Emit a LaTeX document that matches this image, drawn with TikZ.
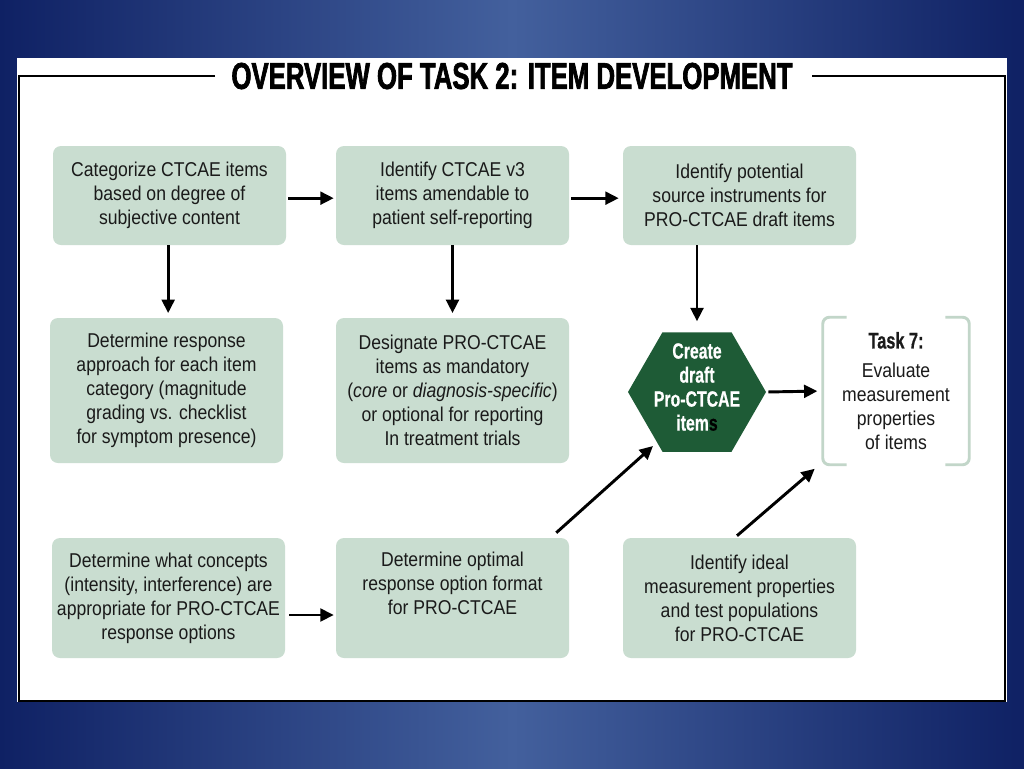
\documentclass[tikz,border=0pt]{standalone}
\usepackage{fontspec}
\setmainfont{Liberation Sans}[FakeStretch=0.88]
\newfontfamily\titlefont{Liberation Sans Bold}[FakeStretch=0.69,FakeBold=1.8]
\newfontfamily\hexfont{Liberation Sans Bold}[FakeStretch=0.72,FakeBold=0.6]
\usetikzlibrary{shapes.geometric,arrows.meta,calc}
\definecolor{bgmid}{HTML}{43609D}
\definecolor{bgedge}{HTML}{0F2164}
\definecolor{boxfill}{HTML}{C9DDD0}
\definecolor{hexfill}{HTML}{1E5B36}
\definecolor{brk}{HTML}{C2D6C9}
\definecolor{txt}{HTML}{1A1A1A}
\tikzset{
  box/.style={fill=boxfill, rounded corners=6pt, minimum width=174.75pt, align=center,
    inner sep=0pt, text=txt, font=\fontsize{15}{18}\selectfont},
  arr/.style={line width=2.2pt, -{Triangle[length=10pt,width=9.5pt]}},
  bracket/.style={draw=brk, line width=2.2pt, rounded corners=5pt},
}
\begin{document}
\begin{tikzpicture}[x=0.75pt,y=-0.75pt]
\useasboundingbox (0,0) rectangle (1024,768);
\shade[left color=bgedge, right color=bgedge, middle color=bgmid] (0,0) rectangle (1024,768);
\fill[white] (17,58) rectangle (1007,702);
\draw[line width=1.9pt] (215,76) -- (19,76) -- (19,701) -- (1005,701) -- (1005,76) -- (812,76);
\node[font=\titlefont\fontsize{28}{30}\selectfont, text=black] (title) at (512,76) {OVERVIEW OF TASK 2: ITEM DEVELOPMENT};

% row 1
\node[box, minimum height=74.25pt] (b1) at (169.5,195.5) {Categorize CTCAE items\\based on degree of\\subjective content};
\node[box, minimum height=74.25pt] (b2) at (452.5,195.5) {Identify CTCAE v3\\items amendable to\\patient self-reporting};
\node[box, minimum height=74.25pt] (b3) at (739.5,195.5) {Identify potential\\source instruments for\\PRO-CTCAE draft items};
% row 2
\node[box, minimum height=108.75pt] (b4) at (166.5,390.5) {Determine response\\approach for each item\\category (magnitude\\grading vs. checklist\\for symptom presence)};
\node[box, minimum height=108.75pt] (b5) at (452.5,390.5) {Designate PRO-CTCAE\\items as mandatory\\(\textit{core} or \textit{diagnosis-specific})\\or optional for reporting\\In treatment trials};
\node[regular polygon, regular polygon sides=6, minimum size=103.5pt, inner sep=0pt, fill=hexfill] (hex) at (697,392) {};
\node[align=center, text=white, font=\hexfont\fontsize{16.5}{18}\selectfont] (hext) at ($(hex.center)+(0,-5)$) {Create\\draft\\Pro-CTCAE\\item{\color{black}s}};
\node[minimum width=109.5pt, minimum height=110.25pt, inner sep=0pt, align=center, text=txt, font=\fontsize{15}{18}\selectfont] (t7) at (896,391) {{\hexfont\fontsize{17}{18}\selectfont Task 7:}\\[4pt]Evaluate\\measurement\\properties\\of items};
\draw[bracket] ($(t7.north west)+(24,0)$) -- (t7.north west) -- (t7.south west) -- ++(24,0);
\draw[bracket] ($(t7.north east)+(-24,0)$) -- (t7.north east) -- (t7.south east) -- ++(-24,0);
% row 3
\node[box, minimum height=90pt] (b6) at (168.5,598) {Determine what concepts\\(intensity, interference) are\\appropriate for PRO-CTCAE\\response options};
\node[box, minimum height=90pt] (b7) at (452.5,598) {};
\node[align=center, text=txt, font=\fontsize{15}{18}\selectfont, anchor=north] (b7t) at ($(b7.north)+(0,10)$) {Determine optimal\\response option format\\for PRO-CTCAE};
\node[box, minimum height=90pt] (b8) at (739.5,598) {Identify ideal\\measurement properties\\and test populations\\for PRO-CTCAE};

% connectors
\draw[arr, shorten <=1.5pt, shorten >=1.5pt] ([yshift=-2pt]b1.east) -- ([yshift=-2pt]b2.west);
\draw[arr, shorten <=1.5pt, shorten >=3pt] ([yshift=-2pt]b2.east) -- ([yshift=-2pt]b3.west);
\draw[arr, shorten >=3.5pt] ([xshift=-1pt]b1.south) -- ([xshift=1.25pt]b4.north);
\draw[arr, shorten >=3.5pt] (b2.south) -- (b5.north);
\draw[arr, shorten >=8pt] (b3.south -| hex.center) -- (hex.north);
\draw[arr, shorten <=1.5pt, shorten >=4pt] (hex.east) -- (t7.west);
\draw[arr, shorten <=3pt, shorten >=1.5pt] ([yshift=-12.75pt]b6.east) -- ([yshift=-12.75pt]b6.east -| b7.west);
\draw[arr] ($(b7.north east)+(-13,-5)$) -- ($(hex.center)+(-44,54)$);
\draw[arr] ($(b8.north)+(-2.5,-2)$) -- ($(t7.south west)+(-8,4)$);
\end{tikzpicture}
\end{document}
